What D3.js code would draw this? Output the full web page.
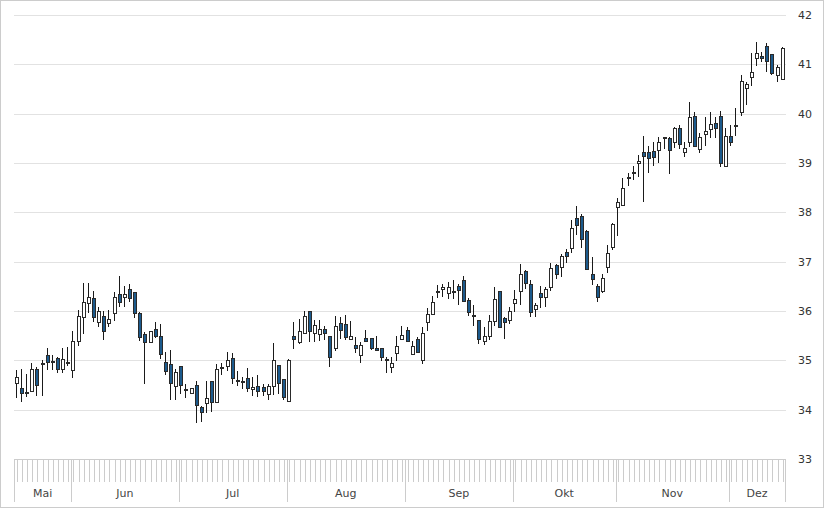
<!DOCTYPE html>
<html>
<head>
<meta charset="utf-8">
<script src="https://cdn.jsdelivr.net/npm/d3@7"></script>
<style>
html,body{margin:0;padding:0;background:#fff;}
svg{display:block;}
</style>
</head>
<body>
<svg id="chart" width="824" height="509"></svg>
<script>
const months = ["Mai","Jun","Jul","Aug","Sep","Okt","Nov","Dez"];
const monthDays = [11,21,21,23,21,20,22,11];
const yTicks = [33,34,35,36,37,38,39,40,41,42];

const open = [34.55,34.44,34.36,34.385,34.82,34.94,35.10,34.98,35.04,34.82,34.97,34.80,35.39,35.87,36.155,36.26,35.78,35.90,35.76,35.95,36.35,36.28,36.45,36.38,35.95,
35.53,35.365,35.63,35.49,34.97,34.93,34.47,34.89,34.42,34.33,34.51,34.06,34.13,34.58,34.15,34.86,34.89,35.04,34.60,34.58,34.65,34.41,34.48,34.45,34.31,
34.47,34.90,34.615,34.175,35.49,35.38,35.56,36.00,35.56,35.53,35.63,35.49,35.26,35.75,35.73,35.43,35.31,35.11,35.445,35.46,35.24,35.24,35.03,34.87,35.155,35.43,35.615,
35.12,35.43,35.006,35.78,35.94,36.41,36.45,36.36,36.41,36.50,36.63,36.22,35.92,35.82,35.40,35.50,35.80,36.40,35.86,35.82,36.155,36.41,36.81,36.55,36.035,
36.37,36.277,36.49,36.93,36.90,37.19,37.27,37.88,37.93,37.62,36.74,36.51,36.41,36.885,37.30,38.10,38.15,38.72,38.81,38.99,39.22,39.23,39.24,
39.26,39.52,39.50,39.43,39.70,39.23,39.43,39.95,39.28,39.58,39.69,39.82,39.95,38.94,39.55,39.78,40.04,40.53,40.74,41.12,41.17,41.37,41.21,40.78,40.70];
const high = [34.80,34.82,34.72,34.94,34.87,35.01,35.26,35.11,35.06,35.24,35.28,35.59,36.03,36.56,36.56,36.41,36.09,36.01,36.03,36.39,36.71,36.51,36.55,36.38,35.98,
35.58,35.60,35.77,35.73,35.16,35.21,34.82,34.89,34.53,34.44,34.59,34.07,34.59,34.58,34.92,34.94,35.16,35.14,34.78,34.67,34.84,34.67,34.70,34.53,34.53,
35.345,34.90,34.615,35.02,35.77,35.84,36.00,36.00,35.82,35.82,35.70,35.49,35.90,35.885,35.92,35.80,35.47,35.38,35.615,35.46,35.49,35.24,35.06,35.06,35.49,35.70,35.67,
35.40,35.48,35.68,36.06,36.30,36.53,36.55,36.58,36.63,36.55,36.70,36.27,36.12,35.82,35.68,35.92,36.49,36.40,35.88,36.09,36.42,36.95,36.83,36.63,36.17,
36.51,36.49,36.98,36.95,37.15,37.25,37.84,38.13,37.96,37.64,37.10,36.55,36.76,37.34,37.78,38.30,38.69,38.80,38.93,39.16,39.55,39.34,39.43,
39.52,39.52,39.52,39.72,39.78,39.42,40.24,40.04,39.61,39.93,40.04,39.93,40.05,39.70,39.77,40.11,40.78,40.65,41.22,41.45,41.24,41.43,41.21,40.99,41.36];
const low = [34.24,34.16,34.26,34.365,34.28,34.28,34.81,34.80,34.75,34.74,34.89,34.64,35.29,35.53,35.95,35.78,35.67,35.41,35.67,35.80,36.09,36.09,36.18,35.85,35.40,
34.53,35.36,35.45,35.03,34.70,34.20,34.20,34.31,34.23,34.32,33.72,33.76,33.94,33.96,34.15,34.70,34.79,34.53,34.48,34.41,34.35,34.28,34.26,34.28,34.20,
34.30,34.31,34.20,34.175,35.22,35.325,35.55,35.38,35.38,35.40,35.41,34.87,35.19,35.43,35.41,35.43,35.14,34.95,35.38,35.20,35.20,34.99,34.75,34.75,34.99,35.43,35.40,
35.11,35.175,34.925,35.59,35.94,36.26,36.28,36.24,36.24,36.12,36.21,35.90,35.70,35.34,35.31,35.41,35.70,35.67,35.43,35.73,35.97,36.13,36.44,35.88,35.88,
36.07,36.09,36.41,36.64,36.68,36.98,37.18,37.54,37.27,36.83,36.53,36.19,36.36,36.78,37.24,37.53,38.13,38.53,38.655,38.72,38.20,38.79,38.93,
39.01,39.28,38.77,39.30,39.28,39.13,39.32,39.35,39.20,39.35,39.50,39.50,38.91,38.91,39.34,39.55,39.95,40.18,40.57,40.97,41.04,40.84,40.78,40.64,40.68];
const close = [34.66,34.33,34.34,34.824,34.49,34.92,34.96,34.96,34.83,35.02,34.95,35.39,35.89,36.18,36.28,35.885,36.00,35.60,35.83,36.28,36.18,36.35,36.26,35.95,35.48,
35.38,35.595,35.49,35.12,34.79,34.535,34.77,34.50,34.40,34.43,34.095,33.95,34.24,34.16,34.825,34.84,35.00,34.635,34.58,34.56,34.43,34.45,34.38,34.38,34.48,
35.01,34.55,34.25,35.01,35.43,35.595,35.90,35.60,35.72,35.63,35.55,35.075,35.70,35.615,35.47,35.49,35.24,35.31,35.39,35.26,35.20,35.06,35.01,34.94,35.29,35.51,35.40,
35.29,35.175,35.55,35.94,36.19,36.38,36.48,36.48,36.38,36.425,36.21,35.97,35.90,35.43,35.50,35.80,36.236,35.67,35.78,36.00,36.236,36.75,36.56,35.97,36.12,
36.29,36.44,36.865,36.75,37.115,37.12,37.675,37.74,37.45,36.85,36.64,36.28,36.66,37.17,37.76,38.20,38.49,38.71,38.79,39.05,39.15,39.11,39.13,
39.42,39.50,39.26,39.70,39.38,39.30,39.93,39.35,39.52,39.64,39.80,39.70,39.01,39.55,39.43,39.76,40.67,40.60,40.84,41.22,41.12,41.07,40.83,40.94,41.34];

const days = d3.range(open.length);

const svg = d3.select("#chart");
const plotLeft = 14.3, plotRight = 785.3, plotTop = 15, plotBottom = 459;

const x = d3.scaleBand().domain(days).range([plotLeft, plotRight]).padding(0);
const y = d3.scaleLinear().domain([33, 42]).range([plotBottom, plotTop]);

// outer frame
svg.append("rect").attr("x",0.5).attr("y",0.5).attr("width",823).attr("height",507)
  .attr("fill","none").attr("stroke","#cccccc");

// gridlines
svg.append("g").selectAll("line").data(yTicks.filter(t => t > 33)).join("line")
  .attr("x1", Math.round(plotLeft)).attr("x2", Math.round(plotRight)+1)
  .attr("y1", d => Math.round(y(d)) + 0.5).attr("y2", d => Math.round(y(d)) + 0.5)
  .attr("stroke", "#e2e2e2");

// y labels (right)
svg.append("g").selectAll("text").data(yTicks).join("text")
  .attr("x", 805).attr("y", d => y(d)).attr("dy", "0.36em")
  .attr("text-anchor", "middle")
  .attr("font-family", "DejaVu Sans, Verdana, sans-serif").attr("font-size", 11)
  .attr("fill", "#333").text(d => d);

// x axis
const ax = svg.append("g");
ax.append("line").attr("x1", Math.round(plotLeft)).attr("x2", Math.round(plotRight)+1)
  .attr("y1", plotBottom + 0.5).attr("y2", plotBottom + 0.5).attr("stroke", "#cccccc");
ax.selectAll("line.day").data(days).join("line").attr("class","day")
  .attr("x1", d => Math.round(x(d) + x.bandwidth()/2) + 0.5)
  .attr("x2", d => Math.round(x(d) + x.bandwidth()/2) + 0.5)
  .attr("y1", plotBottom).attr("y2", 482).attr("stroke", "#cccccc");

const starts = [];
let acc = 0;
monthDays.forEach(n => { starts.push(acc); acc += n; });
const bounds = starts.concat([acc]);
const bx = i => i < days.length ? x(i) : plotRight;
ax.selectAll("line.month").data(bounds).join("line").attr("class","month")
  .attr("x1", d => Math.round(bx(d)) + 0.5).attr("x2", d => Math.round(bx(d)) + 0.5)
  .attr("y1", plotBottom).attr("y2", 502).attr("stroke", "#cccccc");
ax.selectAll("text").data(months).join("text")
  .attr("x", (d, i) => (bx(bounds[i]) + bx(bounds[i+1])) / 2)
  .attr("y", 497).attr("text-anchor", "middle")
  .attr("font-family", "DejaVu Sans, Verdana, sans-serif").attr("font-size", 11)
  .attr("fill", "#444").text(d => d);

// candles
const cg = svg.append("g");
const cx = i => Math.round(x(i) + x.bandwidth()/2);
cg.selectAll("line.wick").data(days).join("line").attr("class","wick")
  .attr("x1", i => cx(i) - 0.5).attr("x2", i => cx(i) - 0.5)
  .attr("y1", i => Math.round(y(high[i]))).attr("y2", i => Math.round(y(low[i])))
  .attr("stroke", "#1a1a1a").attr("stroke-width", 1);
cg.selectAll("rect").data(days).join("rect")
  .attr("x", i => cx(i) - 1.5).attr("width", 3)
  .attr("y", i => Math.round(y(Math.max(open[i], close[i]))) + 0.5)
  .attr("height", i => Math.max(1, Math.round(y(Math.min(open[i], close[i]))) - Math.round(y(Math.max(open[i], close[i])))))
  .attr("fill", i => close[i] < open[i] ? "#1c5a8c" : "#ffffff")
  .attr("stroke", "#2a2a2a").attr("stroke-width", 1);
</script>
</body>
</html>
